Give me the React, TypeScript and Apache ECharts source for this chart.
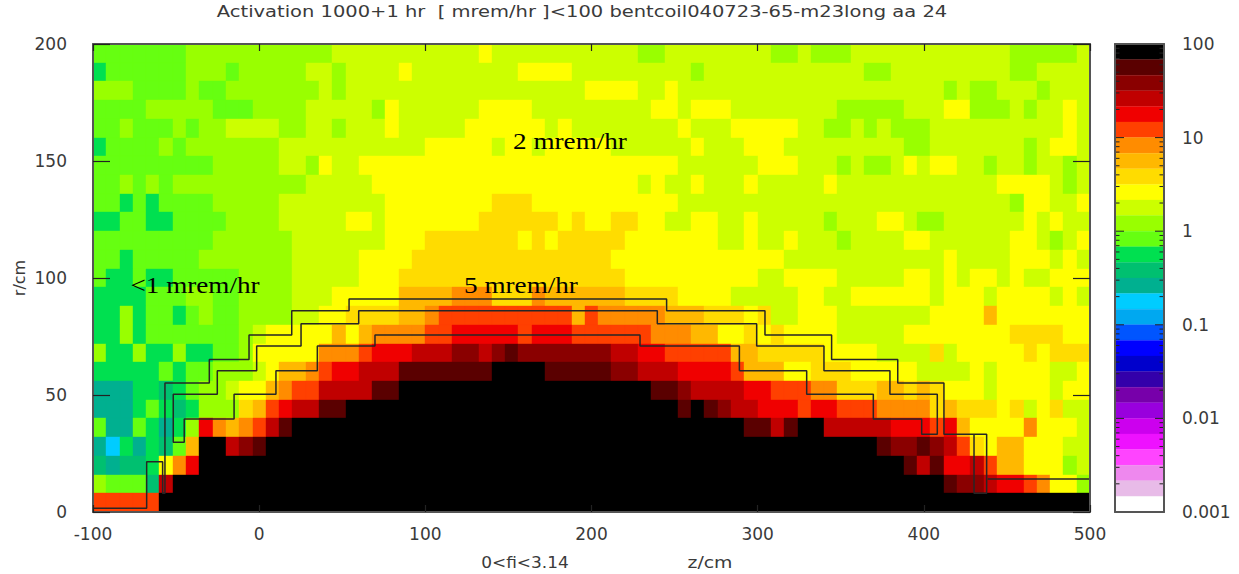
import React, { useEffect, useRef } from "react";
import * as echarts from "echarts";

const chartTitle = "Activation 1000+1 hr  [ mrem/hr ]<100 bentcoil040723-65-m23long aa 24";
const xTicks = { min: -100, max: 500, step: 100 };
const yTicks = { min: 0, max: 200, step: 50 };
const cellSize = 8; // cm

// colour bands, top (>=68 mrem/hr) to bottom
const bandCodes = "KabcdefghijklmnopqrstuvwxyzXYW";
const bandColors = [
  "#000000", "#5a0000", "#8a0000", "#c00000", "#f00000", "#ff4000", "#ff8c00", "#ffb800",
  "#ffdc00", "#ffff00", "#ccff00", "#99ff00", "#66ff11", "#00e050", "#00c070", "#00b090",
  "#00ccff", "#00a8f0", "#0055ff", "#0000ff", "#0000cc", "#3300aa", "#7700aa", "#9900dd",
  "#cc00ee", "#ee11ff", "#ff44ff", "#ee88ee", "#e8bbe8", "#ffffff",
];
const colorbarLabels = ["0.001", "0.01", "0.1", "1", "10", "100"];
const colorbarDecades = [0.001, 0.01, 0.1, 1, 10];
const colorbarMultipliers = [2, 3, 4, 5, 6, 7, 8, 9];

// run-length rows of band codes, top row (r = 192..200) first
const cellRows = [
  "l7 k11 j11 i1 j11 k2 j8 k2 j1 k3 j12 k5 j1",
  "m1 l6 k3 l1 k5 j2 k1 j4 i1 j8 i4 j9 k1 j12 k2 j9 k2 j4",
  "k3 l4 k1 l2 k7 j1 k1 j18 i4 j2 i1 j20 k1 j1 k2 j3 k1 j3",
  "l4 k5 l3 k4 j5 k1 i1 j6 i4 j9 i2 j1 i3 j8 k5 j3 i2 k3 j1 k1 j2 i1 j1",
  "l2 k1 l3 k1 l1 k2 j4 k2 j2 k1 j3 i1 j5 i6 j1 i1 j8 i1 j3 i5 j2 k2 j1 k1 j1 k3 j10 i1 j1",
  "m1 l4 k1 l1 k7 j11 i5 j1 i2 j1 i5 j6 i1 j3 i3 j9 k2 j7 k1 j1 i2 j1",
  "l9 k5 j2 k1 i1 j2 i24 j5 j1 i3 j3 k1 j1 k2 j1 i1 j1 i2 j2 k1 j2 k1 j2 k1 j1",
  "l2 k1 l1 k1 l1 k10 j5 i20 j1 i1 j2 i1 j3 i1 j5 i1 j12 i4 j1 k1 j1",
  "l2 m1 l1 m1 l4 k5 j8 i8 h3 i11 j25 k1 i2 j2 i1",
  "m2 l2 m2 l4 k4 j5 i2 j1 i7 h6 i1 h1 i2 h2 i2 j2 i2 j2 i1 j5 k1 j3 i2 j1 k2 j6 i1 j1 i1 j2",
  "l9 k6 j7 i3 h7 i1 h1 i1 h5 i7 j2 i1 j2 i1 j3 k1 j4 i2 j6 i2 j1 k1 j1 i1",
  "l2 m1 l5 k7 j5 i4 h15 i13 j12 i1 j4 i3 j1 i1 j1",
  "l1 m2 l1 m2 l5 k4 j5 i3 h17 i10 j2 i4 j5 i2 j1 i1 j1 i2 j1 i1 j2 i3",
  "m4 l3 k2 l2 k4 j3 i5 g4 f3 h3 f1 g6 h4 i4 j5 i2 j2 i6 j1 i3 j1 i4 j1 i1 j1",
  "m2 k1 m1 l2 m1 l1 k1 l2 k4 j2 i2 h4 g2 f1 e10 g1 e1 f5 g3 h3 i1 h1 j2 i3 j7 i4 g1 i7",
  "m2 k1 m1 l7 k1 j1 i5 g1 i1 g1 f4 e2 d5 e1 d3 e6 f3 g2 i2 h1 i1 h1 i4 j5 i8 h4 i2",
  "k1 m2 k1 m2 k1 m2 l2 k1 i5 f3 e1 d3 c3 b2 c1 b1 a1 b7 c2 d2 e5 g2 h5 i4 j4 h1 j1 i5 h1 i1 h3",
  "m5 l1 m1 l2 k3 j1 i1 g2 f1 e1 d2 c3 a7 K4 a5 b2 c3 d4 e1 g3 i2 h3 i5 j4 i1 j1 i4 j2 i1",
  "o3 m2 n1 m1 l1 k2 j1 i2 g1 f1 e2 c4 a2 K19 a2 b1 c4 d2 e3 f2 h3 g2 h1 g1 h1 i3 j1 i4 j1 i2",
  "o3 m1 l1 m1 n1 m1 k3 h1 g1 e1 d1 c2 a2 K25 a1 K1 a1 b1 c2 d3 e1 d2 e3 f4 h1 g1 h3 i1 h1 j1 i1 h1 j2",
  "l1 o2 l1 m1 o1 m1 k1 d1 f1 g1 f1 e1 c1 a1 K34 a2 c1 a1 K2 c5 d3 e1 d1 g1 i4 f1 i3 j1",
  "o1 p1 m1 o1 m1 n1 l1 g1 K2 c1 b1 a1 K46 a1 b2 a1 b1 c1 e1 h1 i1 g2 i3 j2",
  "n1 o1 n2 m1 i1 f1 d1 K53 a1 c1 a1 d2 c1 e1 g2 i3 k1 j1",
  "k1 l3 n1 c1 K58 a1 b2 c1 d2 e1 f1 i2 k1",
  "e5 K70",
];

// hand-drawn isodose outlines, [z, r] in cm
const outerContour = [
  [-100, 1.6], [-67.7, 1.6], [-67.7, 21.5], [-58.1, 21.5], [-58.1, 8], [-56.7, 8], [-56.7, 55.1],
  [-30, 55.1], [-30, 65.2], [-6.1, 65.2], [-6.1, 75.6], [19.6, 75.6], [19.6, 86], [54.1, 86],
  [54.1, 91], [245.2, 91], [245.2, 86], [304.4, 86], [304.4, 75.6], [344.5, 75.6], [344.5, 65.2],
  [384.3, 65.2], [384.3, 55.1], [412.1, 55.1], [412.1, 33.2], [437.8, 33.2], [437.8, 8],
  [430.2, 8], [430.2, 33.2],
];
const innerContour = [
  [289, 60.4], [329.5, 60.4], [329.5, 50.3], [369.6, 50.3], [369.6, 39.7], [398.7, 39.7],
  [398.7, 33.2], [408.1, 33.2], [408.1, 50.3], [379.6, 50.3], [379.6, 60.4], [339.9, 60.4],
  [339.9, 70.9], [299.4, 70.9], [299.4, 80.5], [239.6, 80.5], [239.6, 86], [59.9, 86],
  [59.9, 80.5], [25.2, 80.5], [25.2, 70.9], [-1.5, 70.9], [-1.5, 60.4], [-25.2, 60.4],
  [-25.2, 50.3], [-51.7, 50.3], [-51.7, 29.8], [-45.1, 29.8], [-45.1, 39.7], [-15.1, 39.7],
  [-15.1, 50.3], [10.1, 50.3], [10.1, 60.4], [35, 60.4], [35, 70.9], [69.7, 70.9], [69.7, 75.6],
  [229.2, 75.6], [229.2, 70.9], [289, 70.9], [289, 60.4],
];
const tailContour = [[438.5, 14.1], [500, 14.1]];

const annotations = [
  { text: "2 mrem/hr", x: 570, y: 141 },
  { text: "5 mrem/hr", x: 521, y: 285 },
  { text: "<1 mrem/hr", x: 195, y: 285 },
];

const AXIS_COLOR = "#555555";
const TEXT_COLOR = "#3a3a3a";
const SANS = "'DejaVu Sans', sans-serif";
const SERIF = "'Liberation Serif', serif";

function decodeRow(row: string): number[] {
  const out: number[] = [];
  row.split(" ").forEach((token) => {
    const idx = bandCodes.indexOf(token[0]);
    const n = parseInt(token.slice(1), 10);
    for (let i = 0; i < n; i++) out.push(idx);
  });
  return out;
}

function buildCells() {
  const data: number[][] = [];
  cellRows.forEach((row, r) => {
    decodeRow(row).forEach((band, c) => {
      data.push([xTicks.min + c * cellSize, (cellRows.length - 1 - r) * cellSize, band]);
    });
  });
  return data;
}

function buildBands() {
  return bandColors.map((_, i) => [Math.pow(10, 2 - (i + 1) / 6), Math.pow(10, 2 - i / 6), i]);
}

function buildColorbarTicks() {
  const ticks: number[][] = [];
  colorbarDecades.forEach((d) => {
    ticks.push([d, 9]);
    colorbarMultipliers.forEach((m) => ticks.push([d * m, 4.5]));
  });
  return ticks;
}

function lineSeries(data: number[][]) {
  return {
    type: "line",
    data,
    symbol: "none",
    silent: true,
    xAxisIndex: 0,
    yAxisIndex: 0,
    z: 4,
    lineStyle: { color: "#262626", width: 1.5 },
  };
}

export default function App() {
  const ref = useRef<HTMLDivElement>(null);
  useEffect(() => {
    document.body.style.margin = "0";
    document.body.style.background = "#ffffff";
    const chart = echarts.init(ref.current!, null, { renderer: "svg" });
    const sideAxis = { axisLine: { show: true, onZero: false, lineStyle: { color: AXIS_COLOR, width: 2 } }, splitLine: { show: false }, z: 6 };
    const hTick = { show: true, inside: true, length: 7, lineStyle: { color: "#222", width: 1.2 } };
    const vTick = { show: true, inside: true, length: 17, lineStyle: { color: "#222", width: 1.2 } };
    const labelStyle = { color: TEXT_COLOR, fontFamily: SANS, fontSize: 17 };
    chart.setOption({
      animation: false,
      backgroundColor: "#ffffff",
      grid: [
        { left: 93, top: 44, width: 997, height: 468 },
        { left: 1115, top: 44, width: 49, height: 468 },
      ],
      xAxis: [
        { type: "value", gridIndex: 0, position: "bottom", min: xTicks.min, max: xTicks.max, interval: xTicks.step, ...sideAxis, axisTick: hTick, axisLabel: { ...labelStyle, margin: 13, showMinLabel: true, showMaxLabel: true } },
        { type: "value", gridIndex: 0, position: "top", min: xTicks.min, max: xTicks.max, interval: xTicks.step, ...sideAxis, axisTick: hTick, axisLabel: { show: false } },
        { type: "value", gridIndex: 1, position: "bottom", min: 0, max: 1, ...sideAxis, axisTick: { show: false }, axisLabel: { show: false } },
        { type: "value", gridIndex: 1, position: "top", min: 0, max: 1, ...sideAxis, axisTick: { show: false }, axisLabel: { show: false } },
      ],
      yAxis: [
        { type: "value", gridIndex: 0, position: "left", min: yTicks.min, max: yTicks.max, interval: yTicks.step, ...sideAxis, axisTick: vTick, axisLabel: { ...labelStyle, margin: 26 } },
        { type: "value", gridIndex: 0, position: "right", min: yTicks.min, max: yTicks.max, interval: yTicks.step, ...sideAxis, axisTick: vTick, axisLabel: { show: false } },
        {
          type: "log", gridIndex: 1, position: "right", logBase: 10, min: 0.001, max: 100, ...sideAxis, axisTick: { show: false }, minorTick: { show: false },
          axisLabel: { ...labelStyle, margin: 18, formatter: (v: number) => colorbarLabels[Math.round(Math.log10(v)) + 3] ?? String(v) },
        },
        { type: "log", gridIndex: 1, position: "left", logBase: 10, min: 0.001, max: 100, ...sideAxis, axisTick: { show: false }, axisLabel: { show: false } },
      ],
      series: [
        {
          type: "custom",
          coordinateSystem: "cartesian2d",
          xAxisIndex: 0,
          yAxisIndex: 0,
          silent: true,
          z: 2,
          data: buildCells(),
          encode: { x: 0, y: 1 },
          renderItem: (_: any, api: any) => {
            const z = api.value(0);
            const r = api.value(1);
            const a = api.coord([z, r + cellSize]);
            const b = api.coord([z + cellSize, r]);
            const x0 = Math.round(a[0]);
            const y0 = Math.round(a[1]);
            return {
              type: "rect",
              shape: { x: x0, y: y0, width: Math.round(b[0]) - x0, height: Math.round(b[1]) - y0 },
              style: { fill: bandColors[api.value(2)], stroke: bandColors[api.value(2)], lineWidth: 0.4 },
            };
          },
        },
        lineSeries(outerContour),
        lineSeries(innerContour),
        lineSeries(tailContour),
        {
          type: "custom",
          coordinateSystem: "cartesian2d",
          xAxisIndex: 2,
          yAxisIndex: 2,
          silent: true,
          z: 2,
          data: buildBands(),
          encode: { y: [0, 1] },
          renderItem: (_: any, api: any) => {
            const a = api.coord([0, api.value(1)]);
            const b = api.coord([1, api.value(0)]);
            const fill = bandColors[api.value(2)];
            return { type: "rect", shape: { x: a[0], y: a[1], width: b[0] - a[0], height: b[1] - a[1] }, style: { fill, stroke: fill, lineWidth: 0.3 } };
          },
        },
        {
          type: "custom",
          coordinateSystem: "cartesian2d",
          xAxisIndex: 2,
          yAxisIndex: 2,
          silent: true,
          z: 5,
          data: buildColorbarTicks(),
          encode: { y: 0 },
          renderItem: (_: any, api: any) => {
            const left = api.coord([0, api.value(0)]);
            const right = api.coord([1, api.value(0)]);
            const len = api.value(1);
            const style = { stroke: "#222222", lineWidth: 1 };
            return {
              type: "group",
              children: [
                { type: "line", shape: { x1: left[0], y1: left[1], x2: left[0] + len, y2: left[1] }, style },
                { type: "line", shape: { x1: right[0], y1: right[1], x2: right[0] - len, y2: right[1] }, style },
              ],
            };
          },
        },
      ],
      graphic: [
        { type: "text", x: 582, y: 12, scaleX: 1.3, style: { text: chartTitle, fill: TEXT_COLOR, font: `15px ${SANS}`, textAlign: "center", textVerticalAlign: "middle" } },
        { type: "text", x: 19, y: 278, rotation: Math.PI / 2, style: { text: "r/cm", fill: TEXT_COLOR, font: `16px ${SANS}`, textAlign: "center", textVerticalAlign: "middle" } },
        { type: "text", x: 525, y: 563, scaleX: 1.06, style: { text: "0<fi<3.14", fill: TEXT_COLOR, font: `16px ${SANS}`, textAlign: "center", textVerticalAlign: "middle" } },
        { type: "text", x: 710, y: 563, scaleX: 1.18, style: { text: "z/cm", fill: TEXT_COLOR, font: `16px ${SANS}`, textAlign: "center", textVerticalAlign: "middle" } },
        ...annotations.map((a) => ({
          type: "text",
          x: a.x,
          y: a.y,
          z: 10,
          scaleX: 1.18,
          style: { text: a.text, fill: "#000000", font: `23px ${SERIF}`, textAlign: "center", textVerticalAlign: "middle" },
        })),
      ],
    });
    return () => chart.dispose();
  }, []);
  return <div ref={ref} style={{ width: 1239, height: 574 }} />;
}
